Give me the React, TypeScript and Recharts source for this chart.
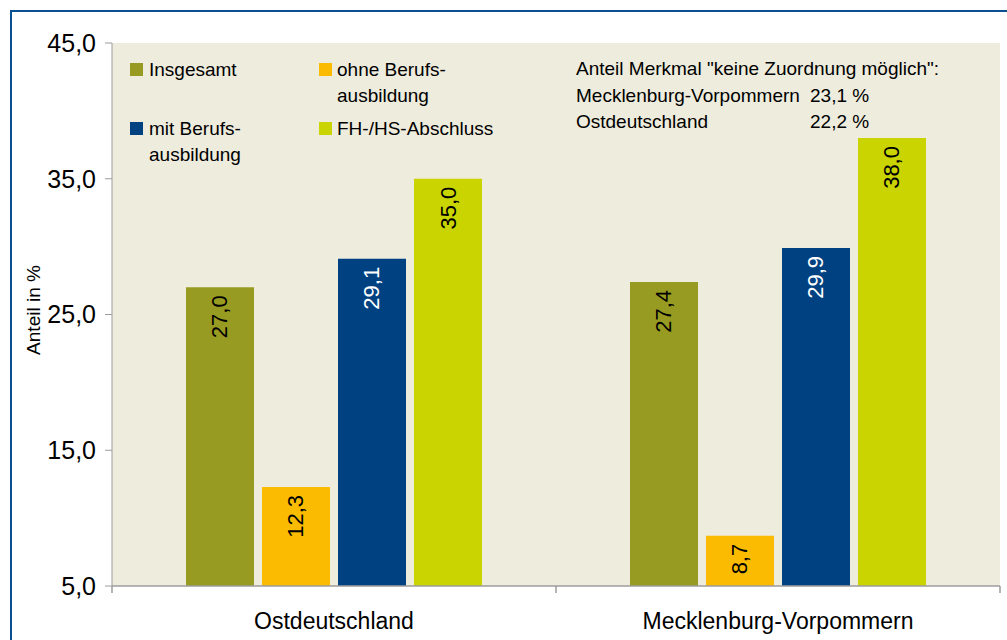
import React from 'react';
import { BarChart, Bar, XAxis, YAxis, CartesianGrid, LabelList, Customized } from 'recharts';

const categories = ['Ostdeutschland', 'Mecklenburg-Vorpommern'];
const insgesamt = [27.0, 27.4];
const ohneBerufsausbildung = [12.3, 8.7];
const mitBerufsausbildung = [29.1, 29.9];
const fhHsAbschluss = [35.0, 38.0];
const yTicks = [5, 15, 25, 35, 45];

const seriesKeys = ['insgesamt', 'ohne', 'mit', 'fh'];
const seriesNames = ['Insgesamt', 'ohne Berufsausbildung', 'mit Berufsausbildung', 'FH-/HS-Abschluss'];
const legendLines = [['Insgesamt'], ['ohne Berufs-', 'ausbildung'], ['mit Berufs-', 'ausbildung'], ['FH-/HS-Abschluss']];
const seriesColors = ['#989B21', '#FABB00', '#004181', '#C9D400'];
const labelColors = ['#000000', '#000000', '#FFFFFF', '#000000'];

const noteTitle = 'Anteil Merkmal "keine Zuordnung möglich":';
const noteRegions = ['Mecklenburg-Vorpommern', 'Ostdeutschland'];
const noteValues = ['23,1 %', '22,2 %'];

const data = categories.map((c, i) => ({
  name: c,
  insgesamt: insgesamt[i],
  ohne: ohneBerufsausbildung[i],
  mit: mitBerufsausbildung[i],
  fh: fhHsAbschluss[i],
}));

const W = 1007;
const H = 640;
const M = { top: 43, right: 7, bottom: 0, left: 0 };
const Y_W = 112;
const X_H = 54;
const PLOT_W = W - M.right - M.left - Y_W;
const BAND = PLOT_W / categories.length;
const FONT = '"Liberation Sans", Arial, sans-serif';
const AXIS = '#9C9C9C';

const fmt = (v: number) => v.toFixed(1).replace('.', ',');

const XTick = (props: any) => {
  const { x, y, payload, index } = props;
  const half = BAND / 2;
  return (
    <g>
      <line x1={x - half} x2={x - half} y1={y} y2={y + 7} stroke={AXIS} strokeWidth={1.5} />
      {index === categories.length - 1 && (
        <line x1={x + half} x2={x + half} y1={y} y2={y + 7} stroke={AXIS} strokeWidth={1.5} />
      )}
      <text x={x} y={y + 43} textAnchor="middle" fontSize={23} fill="#000" fontFamily={FONT}>
        {payload.value}
      </text>
    </g>
  );
};

const makeLabel = (color: string) => (props: any) => {
  const { x, y, width, value } = props;
  const cx = x + width / 2;
  const ty = y + 8;
  return (
    <text
      x={cx}
      y={ty}
      transform={`rotate(-90, ${cx}, ${ty})`}
      textAnchor="end"
      dominantBaseline="central"
      fontSize={22}
      fill={color}
      fontFamily={FONT}
    >
      {fmt(Number(value))}
    </text>
  );
};

const legendPos = [
  { sx: 130, sy: 63, tx: 149, ty: 76 },
  { sx: 319, sy: 63, tx: 337, ty: 76 },
  { sx: 130, sy: 122, tx: 149, ty: 135 },
  { sx: 319, sy: 122, tx: 337, ty: 135 },
];

const Overlay = () => (
  <g fontFamily={FONT}>
    {seriesKeys.map((k, i) => (
      <g key={k}>
        <rect x={legendPos[i].sx} y={legendPos[i].sy} width={13} height={13} fill={seriesColors[i]} />
        {legendLines[i].map((ln, j) => (
          <text key={j} x={legendPos[i].tx} y={legendPos[i].ty + j * 26} fontSize={19} fill="#000">
            {ln}
          </text>
        ))}
      </g>
    ))}
    <text x={576} y={75} fontSize={19} fill="#000">{noteTitle}</text>
    {noteRegions.map((r, i) => (
      <g key={r}>
        <text x={576} y={102 + i * 26} fontSize={19} fill="#000">{r}</text>
        <text x={810} y={102 + i * 26} fontSize={19} fill="#000">{noteValues[i]}</text>
      </g>
    ))}
    <text x={33} y={310} transform="rotate(-90, 33, 310)" textAnchor="middle" dominantBaseline="central" fontSize={19} fill="#000">
      Anteil in %
    </text>
  </g>
);

export default function App() {
  return (
    <div style={{ position: 'absolute', left: 0, top: 0, width: W, height: H, overflow: 'hidden', background: '#fff' }}>
      <div
        style={{
          position: 'absolute',
          left: 10,
          top: 10,
          width: W + 20,
          height: H + 20,
          borderTop: '2px solid #0A4F8F',
          borderLeft: '2px solid #0A4F8F',
          boxSizing: 'border-box',
        }}
      />
      <div style={{ position: 'absolute', left: 0, top: 0 }}>
        <BarChart width={W} height={H} data={data} margin={M} barSize={68} barGap={8} style={{ fontFamily: FONT }}>
          <CartesianGrid horizontal={false} vertical={false} fill="#EEECDD" stroke="none" />
          <XAxis
            dataKey="name"
            height={X_H}
            tickLine={false}
            tickSize={0}
            tickMargin={0}
            axisLine={{ stroke: AXIS, strokeWidth: 1.5 }}
            tick={<XTick />}
            interval={0}
          />
          <YAxis
            width={Y_W}
            domain={[5, 45]}
            ticks={yTicks}
            interval={0}
            tickFormatter={fmt}
            tickSize={7}
            tickMargin={9}
            axisLine={{ stroke: AXIS, strokeWidth: 1 }}
            tickLine={{ stroke: AXIS, strokeWidth: 1 }}
            tick={{ fontSize: 25, fill: '#000', fontFamily: FONT }}
          />
          {seriesKeys.map((k, i) => (
            <Bar key={k} dataKey={k} name={seriesNames[i]} fill={seriesColors[i]} isAnimationActive={false}>
              <LabelList dataKey={k} content={makeLabel(labelColors[i])} />
            </Bar>
          ))}
          <Customized component={<Overlay />} />
        </BarChart>
      </div>
    </div>
  );
}
